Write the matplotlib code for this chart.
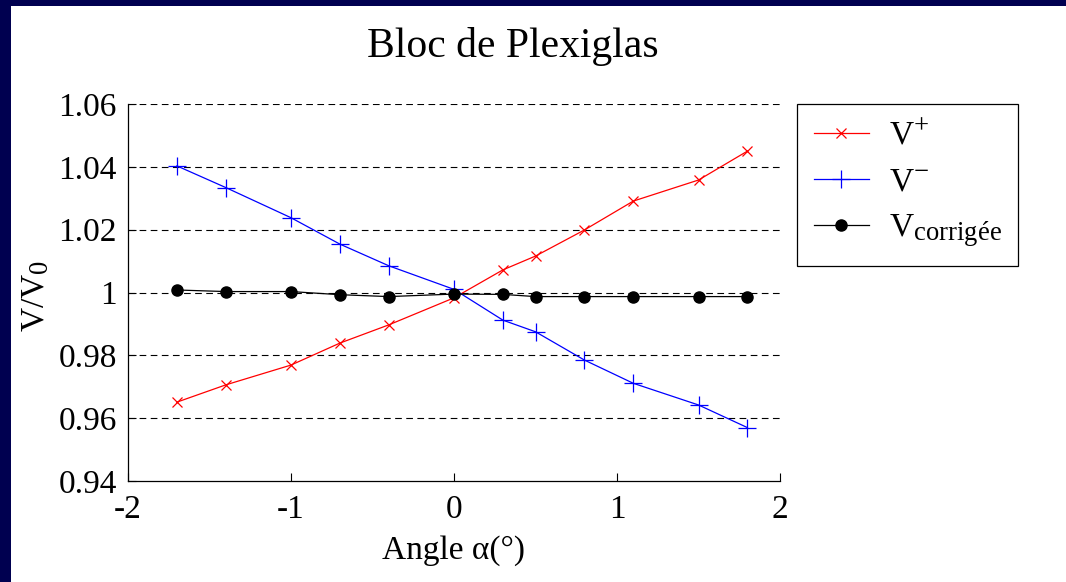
import matplotlib
matplotlib.use("Agg")
import matplotlib.pyplot as plt
import matplotlib._mathtext as mathtext_internal
from matplotlib.ticker import FormatStrFormatter

plt.rcParams['font.family'] = ['Liberation Serif', 'DejaVu Serif']
plt.rcParams['mathtext.fontset'] = 'custom'
plt.rcParams['mathtext.rm'] = 'Liberation Serif'
plt.rcParams['mathtext.it'] = 'Liberation Serif:italic'
plt.rcParams['axes.unicode_minus'] = False
# bigger sub/superscripts, closer to the original
mathtext_internal.SHRINK_FACTOR = 0.8

angle = [-1.7, -1.4, -1.0, -0.7, -0.4, 0.0, 0.3, 0.5, 0.8, 1.1, 1.5, 1.8]
v_plus = [0.9651, 0.9706, 0.9769, 0.9839, 0.9897, 0.9983,
          1.0072, 1.0116, 1.0199, 1.0291, 1.0358, 1.0450]
v_minus = [1.0403, 1.0334, 1.0238, 1.0154, 1.0085, 1.0010,
           0.9912, 0.9875, 0.9785, 0.9711, 0.9642, 0.9570]
v_corr = [1.0008, 1.0003, 1.0003, 0.9993, 0.9987, 0.9995,
          0.9994, 0.9987, 0.9987, 0.9987, 0.9987, 0.9987]

xticks = [-2, -1, 0, 1, 2]
yticks = [0.94, 0.96, 0.98, 1.00, 1.02, 1.04, 1.06]

fig = plt.figure(figsize=(10.66, 5.82), dpi=100)
fig.patch.set_facecolor('white')

# navy frame of the slide
fig.patches.append(plt.Rectangle((0, 1 - 6 / 582), 1, 6 / 582, fc='#000050',
                                 transform=fig.transFigure, figure=fig))
fig.patches.append(plt.Rectangle((0, 0), 11 / 1066, 1, fc='#000050',
                                 transform=fig.transFigure, figure=fig))

ax = fig.add_axes([128 / 1066, 1 - 481 / 582, 652 / 1066, 377 / 582])

for y in yticks[1:]:
    ax.axhline(y, color='black', lw=0.8, dashes=(6, 4), zorder=0)

ax.plot(angle, v_plus, color='red', lw=0.9, marker='x', ms=7.5, mew=0.9,
        label='V$^{+}$')
ax.plot(angle, v_minus, color='blue', lw=0.9, marker='+', ms=13, mew=0.9,
        label='V$^{-}$')
ax.plot(angle, v_corr, color='black', lw=0.9, marker='o', ms=8,
        label='V$_{\\mathrm{corrigée}}$')

ax.set_xlim(-2, 2)
ax.set_ylim(0.94, 1.06)
ax.set_xticks(xticks)
ax.set_yticks(yticks)
ax.yaxis.set_major_formatter(FormatStrFormatter('%g'))
ax.xaxis.set_major_formatter(FormatStrFormatter('%g'))
ax.tick_params(direction='in', length=6, width=0.8, labelsize=24)
ax.tick_params(axis='y', pad=8)
ax.tick_params(axis='x', pad=10)
ax.spines['top'].set_visible(False)
ax.spines['right'].set_visible(False)
ax.spines['left'].set_linewidth(0.9)
ax.spines['bottom'].set_linewidth(0.9)

fig.text(513 / 1066, 1 - 57 / 582, 'Bloc de Plexiglas', fontsize=30,
         ha='center', va='baseline')
ax.set_xlabel('Angle α(°)', fontsize=24, labelpad=7)
ax.set_ylabel('V/V$_0$', fontsize=24)
ax.yaxis.set_label_coords(-0.118, 0.49)

leg = ax.legend(loc='upper left', bbox_to_anchor=(797 / 1066, 1 - 104 / 582),
                bbox_transform=fig.transFigure, borderaxespad=0,
                fontsize=24, fancybox=False, edgecolor='black',
                handlelength=1.65, labelspacing=0.45, borderpad=0.5,
                handletextpad=0.6, framealpha=1)
leg.get_frame().set_linewidth(0.9)

fig.savefig('out.png', dpi=100, facecolor='white')
